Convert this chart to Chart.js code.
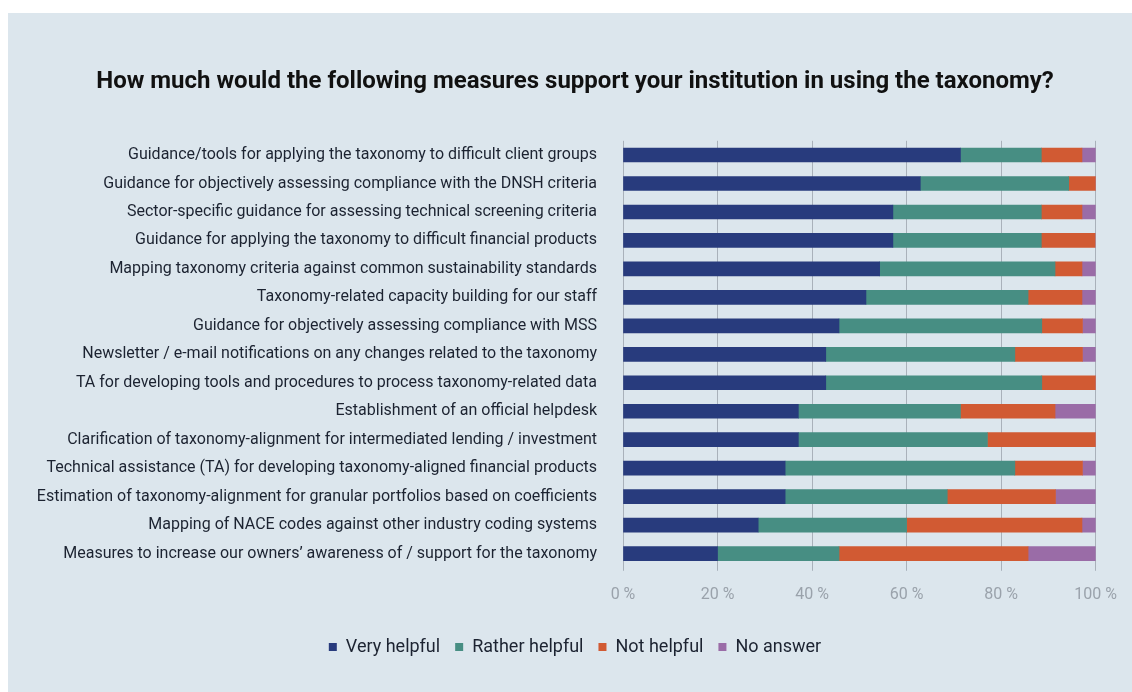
<!DOCTYPE html>
<html>
<head>
<meta charset="utf-8">
<title>Taxonomy support measures</title>
<script src="https://cdn.jsdelivr.net/npm/chart.js@4/dist/chart.umd.min.js"></script>
<style>
    html, body { margin: 0; padding: 0; background: #ffffff; }
    #panel {
        position: absolute;
        left: 8px; top: 13px;
        width: 1124px; height: 679px;
        background: #dce6ed;
    }
    #chart { display: block; }
</style>
</head>
<body>
<div id="panel">
    <canvas id="chart" width="1124" height="679"></canvas>
</div>
<script>
/* Stacked 100 % bar chart: support measures for taxonomy use */

const measures = [
    'Guidance/tools for applying the taxonomy to difficult client groups',
    'Guidance for objectively assessing compliance with the DNSH criteria',
    'Sector-specific guidance for assessing technical screening criteria',
    'Guidance for applying the taxonomy to difficult financial products',
    'Mapping taxonomy criteria against common sustainability standards',
    'Taxonomy-related capacity building for our staff',
    'Guidance for objectively assessing compliance with MSS',
    'Newsletter / e-mail notifications on any changes related to the taxonomy',
    'TA for developing tools and procedures to process taxonomy-related data',
    'Establishment of an official helpdesk',
    'Clarification of taxonomy-alignment for intermediated lending / investment',
    'Technical assistance (TA) for developing taxonomy-aligned financial products',
    'Estimation of taxonomy-alignment for granular portfolios based on coefficients',
    'Mapping of NACE codes against other industry coding systems',
    'Measures to increase our owners\u2019 awareness of / support for the taxonomy'
];

// shares in percent
const veryHelpful   = [71.4, 62.9, 57.1, 57.1, 54.3, 51.4, 45.7, 42.9, 42.9, 37.1, 37.1, 34.3, 34.3, 28.6, 20.0];
const ratherHelpful = [17.1, 31.4, 31.4, 31.4, 37.1, 34.3, 42.9, 40.0, 45.7, 34.3, 40.0, 48.6, 34.3, 31.4, 25.7];
const notHelpful    = [ 8.6,  5.7,  8.6, 11.4,  5.7, 11.4,  8.6, 14.3, 11.4, 20.0, 22.9, 14.3, 22.9, 37.1, 40.0];
const noAnswer      = [ 2.9,  0.0,  2.9,  0.0,  2.9,  2.9,  2.9,  2.9,  0.0,  8.6,  0.0,  2.9,  8.6,  2.9, 14.3];

const xTicks = [0, 20, 40, 60, 80, 100];

const FONT = 'Roboto, "Liberation Sans", sans-serif';
const INK = '#1c2331';

const series = [
    { label: 'Very helpful',   data: veryHelpful,   color: '#283b7d' },
    { label: 'Rather helpful', data: ratherHelpful, color: '#478e83' },
    { label: 'Not helpful',    data: notHelpful,    color: '#d15a33' },
    { label: 'No answer',      data: noAnswer,      color: '#9a6ca7' }
];

// y labels are wider than their box; widen the label clip area after layout
const unclipLabels = {
    id: 'unclipLabels',
    afterLayout(chart) {
        chart.scales.y.left = 4;
    }
};

new Chart(document.getElementById('chart'), {
    type: 'bar',
    data: {
        labels: measures,
        datasets: series.map(s => ({
            label: s.label,
            data: s.data,
            backgroundColor: s.color,
            barThickness: 14,
            borderWidth: 0
        }))
    },
    options: {
        indexAxis: 'y',
        responsive: false,
        animation: false,
        // wide left padding keeps title and legend centred
        layout: { padding: { left: 46, right: 36, top: 0, bottom: 26 } },
        plugins: {
            title: {
                display: true,
                text: 'How much would the following measures support your institution in using the taxonomy?',
                color: '#111111',
                font: { family: FONT, size: 24, weight: 'bold' },
                padding: { top: 55, bottom: 44 }
            },
            legend: {
                position: 'bottom',
                labels: {
                    color: INK,
                    font: { family: FONT, size: 18 },
                    boxWidth: 8,
                    boxHeight: 8,
                    padding: 15
                }
            },
            tooltip: { enabled: false }
        },
        scales: {
            x: {
                stacked: true,
                min: 0,
                max: 100,
                afterBuildTicks(scale) {
                    scale.ticks = xTicks.map(v => ({ value: v }));
                },
                afterFit(scale) { scale.height += 3; },
                grid: {
                    color: '#a9b1ba',
                    lineWidth: 1,
                    drawTicks: true,
                    tickLength: 3
                },
                border: { display: false },
                ticks: {
                    color: '#9aa2ab',
                    font: { family: FONT, size: 16 },
                    padding: 15,
                    callback: v => v + ' %'
                }
            },
            y: {
                stacked: true,
                grid: { display: false, drawTicks: false },
                border: { display: false },
                afterFit(scale) { scale.width = 569; },
                ticks: {
                    color: INK,
                    font: { family: FONT, size: 16 },
                    padding: 26,
                    autoSkip: false
                }
            }
        }
    },
    plugins: [unclipLabels]
});
</script>
</body>
</html>
